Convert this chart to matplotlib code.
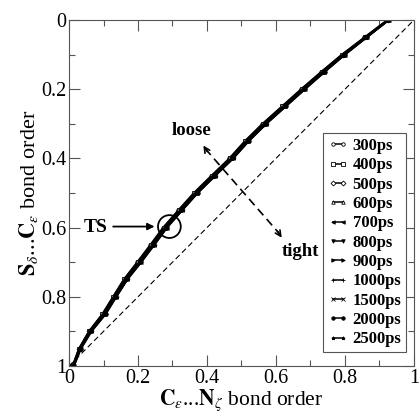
import numpy as np
import matplotlib.pyplot as plt
from matplotlib.patches import Ellipse

plt.rcParams['font.family'] = ['Liberation Serif', 'DejaVu Serif']
plt.rcParams['mathtext.fontset'] = 'stix'

# S...C bond order levels shared by all runs
y_bo = [1.00, 0.95, 0.90, 0.85, 0.80, 0.75, 0.70, 0.65, 0.60, 0.55, 0.50,
        0.45, 0.40, 0.35, 0.30, 0.25, 0.20, 0.15, 0.10, 0.05, 0.00]

# C...N bond order for each run
x300 = [0.010, 0.028, 0.057, 0.096, 0.127, 0.158, 0.197, 0.235, 0.272, 0.316, 0.361,
        0.412, 0.464, 0.509, 0.560, 0.616, 0.672, 0.730, 0.790, 0.856, 0.922]
x400 = [0.010, 0.029, 0.058, 0.097, 0.128, 0.160, 0.199, 0.237, 0.274, 0.318, 0.363,
        0.414, 0.466, 0.511, 0.562, 0.618, 0.674, 0.732, 0.792, 0.857, 0.923]
x500 = [0.011, 0.030, 0.059, 0.099, 0.130, 0.162, 0.201, 0.239, 0.276, 0.320, 0.365,
        0.416, 0.468, 0.513, 0.564, 0.620, 0.676, 0.733, 0.793, 0.858, 0.924]
x600 = [0.011, 0.030, 0.060, 0.100, 0.131, 0.163, 0.203, 0.241, 0.278, 0.322, 0.367,
        0.418, 0.470, 0.515, 0.566, 0.622, 0.678, 0.735, 0.795, 0.860, 0.925]
x700 = [0.012, 0.031, 0.061, 0.101, 0.132, 0.164, 0.204, 0.242, 0.279, 0.323, 0.368,
        0.419, 0.471, 0.516, 0.567, 0.623, 0.679, 0.736, 0.796, 0.861, 0.925]
x800 = [0.012, 0.032, 0.062, 0.102, 0.133, 0.165, 0.205, 0.243, 0.280, 0.324, 0.369,
        0.420, 0.472, 0.517, 0.568, 0.624, 0.680, 0.737, 0.797, 0.861, 0.926]
x900 = [0.013, 0.032, 0.062, 0.103, 0.134, 0.166, 0.206, 0.244, 0.281, 0.325, 0.370,
        0.421, 0.473, 0.518, 0.569, 0.625, 0.681, 0.738, 0.797, 0.862, 0.926]
x1000 = [0.013, 0.033, 0.063, 0.104, 0.135, 0.167, 0.207, 0.245, 0.282, 0.326, 0.371,
         0.422, 0.474, 0.519, 0.570, 0.626, 0.682, 0.739, 0.798, 0.862, 0.927]
x1500 = [0.014, 0.034, 0.064, 0.105, 0.136, 0.168, 0.208, 0.246, 0.283, 0.327, 0.372,
         0.423, 0.475, 0.520, 0.571, 0.627, 0.683, 0.740, 0.799, 0.863, 0.927]
x2000 = [0.014, 0.034, 0.065, 0.106, 0.137, 0.169, 0.209, 0.247, 0.284, 0.328, 0.373,
         0.424, 0.476, 0.521, 0.572, 0.628, 0.684, 0.741, 0.800, 0.864, 0.928]
x2500 = [0.015, 0.035, 0.066, 0.107, 0.138, 0.170, 0.210, 0.248, 0.285, 0.329, 0.374,
         0.425, 0.477, 0.522, 0.573, 0.629, 0.685, 0.742, 0.801, 0.864, 0.928]

labels = ['300ps', '400ps', '500ps', '600ps', '700ps', '800ps', '900ps',
          '1000ps', '1500ps', '2000ps', '2500ps']
runs = [x300, x400, x500, x600, x700, x800, x900, x1000, x1500, x2000, x2500]
markers = ['o', 's', 'D', '^', '<', 'v', '>', '+', 'x', 'o', '*']
faces = ['white', 'white', 'white', 'white', 'black', 'black', 'black',
         'black', 'black', 'black', 'black']

fig = plt.figure(figsize=(4.19, 4.13), dpi=100)
ax = fig.add_axes([0.1647, 0.1138, 0.8233, 0.8378])

for xs, lab, m, fc in zip(runs, labels, markers, faces):
    ax.plot(xs, y_bo, color='black', lw=1.1, marker=m, ms=2.5, mfc=fc,
            mec='black', mew=0.6, label=lab)

# reference diagonal
ax.plot([0, 1], [1, 0], color='black', lw=0.8, ls=(0, (5, 3)))

# TS marker
ax.add_patch(Ellipse((0.291, 0.597), 0.066, 0.066, fill=False, lw=1.3, color='black'))
ax.annotate('', xy=(0.256, 0.597), xytext=(0.120, 0.597),
            arrowprops=dict(arrowstyle='-|>', color='black', lw=1.3, mutation_scale=10))
ax.text(0.078, 0.600, 'TS', fontsize=14, fontweight='bold', ha='center', va='center')

# loose / tight arrow
ax.plot([0.395, 0.612], [0.372, 0.620], color='black', lw=1.2, ls=(0, (5, 3)))
ax.annotate('', xy=(0.385, 0.356), xytext=(0.405, 0.387),
            arrowprops=dict(arrowstyle='->', color='black', lw=1.2, mutation_scale=10))
ax.annotate('', xy=(0.621, 0.636), xytext=(0.600, 0.604),
            arrowprops=dict(arrowstyle='->', color='black', lw=1.2, mutation_scale=10))
ax.text(0.354, 0.318, 'loose', fontsize=13.5, fontweight='bold', ha='center', va='center')
ax.text(0.672, 0.668, 'tight', fontsize=13.5, fontweight='bold', ha='center', va='center')

ax.set_xlim(0, 1)
ax.set_ylim(1, 0)
ax.set_xticks([0, 0.2, 0.4, 0.6, 0.8, 1])
ax.set_xticklabels(['0', '0.2', '0.4', '0.6', '0.8', '1'])
ax.set_yticks([0, 0.2, 0.4, 0.6, 0.8, 1])
ax.set_yticklabels(['0', '0.2', '0.4', '0.6', '0.8', '1'])
ax.set_xticks(np.arange(0.1, 1.0, 0.2), minor=True)
ax.set_yticks(np.arange(0.1, 1.0, 0.2), minor=True)
ax.tick_params(which='both', direction='in', top=True, right=True, color='#555555',
               labelsize=14.5, pad=2)
ax.tick_params(which='major', length=8, width=0.8)
ax.tick_params(which='minor', length=4, width=0.8)
for sp in ax.spines.values():
    sp.set_color('#555555')
    sp.set_linewidth(0.8)

ax.set_xlabel(r'$\mathbf{C}_{\varepsilon}$...$\mathbf{N}_{\zeta}$ bond order', fontsize=15.5, labelpad=0)
ax.set_ylabel(r'$\mathbf{S}_{\delta}$...$\mathbf{C}_{\varepsilon}$ bond order', fontsize=16, labelpad=1)

leg = ax.legend(loc='upper left', bbox_to_anchor=(0.735, 0.673), numpoints=2,
                prop={'weight': 'bold', 'size': 12}, handlelength=1.2, handletextpad=0.3,
                labelspacing=0.2, borderpad=0.3, borderaxespad=0, fancybox=False,
                framealpha=1, edgecolor='#555555')
leg.get_frame().set_linewidth(0.8)

fig.savefig('out.png', dpi=100)
